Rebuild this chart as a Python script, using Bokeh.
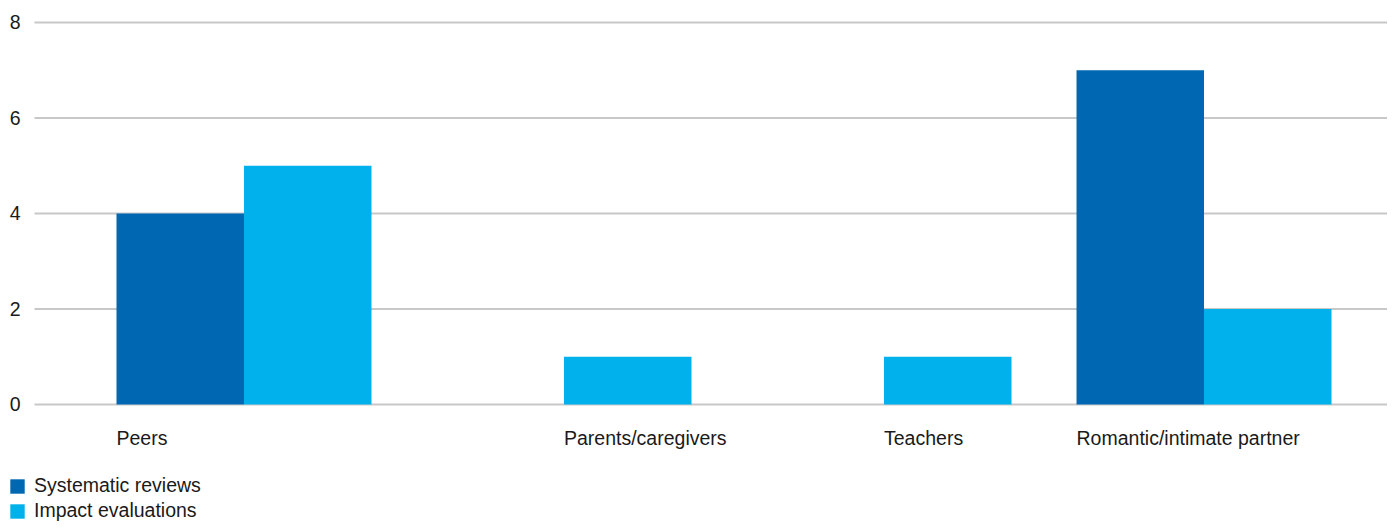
import numpy as np
from bokeh.plotting import figure
from bokeh.models import Range1d, Legend, LegendItem, ColumnDataSource
from bokeh.core.properties import value
from bokeh.embed import file_html
from bokeh.resources import INLINE

categories = ["Peers", "Parents/caregivers", "Teachers", "Romantic/intimate partner"]
systematic_reviews = [4, 0, 0, 7]
impact_evaluations = [5, 1, 1, 2]
series_names = ["Systematic reviews", "Impact evaluations"]
y_ticks = [0, 2, 4, 6, 8]
y_tick_labels = ["0", "2", "4", "6", "8"]

DARK = "#0067B2"
LIGHT = "#00B1EB"
TEXT = "#1a1a1a"
GRID = "#c8c8c8"
FONT = "Liberation Sans"
FS = "19.5px"

W, H = 1387, 522
X_START, X_END = -0.7609, 3.5734       # frame covers the full figure width
Y_START, Y_END = -2.4712, 8.4607
PX_PER_X = W / (X_END - X_START)
GRID_LEFT_PX = 34                       # gridlines start right of tick labels

idx = np.arange(len(categories), dtype=float)
bw = 0.3984
sr = np.array(systematic_reviews)

# category label starts at the left edge of the first drawn bar in its group
x_lab = np.where(sr > 0, idx - bw, idx)

src = ColumnDataSource(dict(
    x_sr=idx - bw / 2,
    x_ie=idx + bw / 2,
    x_lab=x_lab,
    y0=[0] * len(categories),
    cat=categories,
    sr=systematic_reviews,
    ie=impact_evaluations,
))

tick_src = ColumnDataSource(dict(
    y=y_ticks,
    label=y_tick_labels,
    x_lab=[X_START] * len(y_ticks),
    x0=[X_START + GRID_LEFT_PX / PX_PER_X] * len(y_ticks),
    x1=[X_END] * len(y_ticks),
))

p = figure(width=W, height=H, output_backend="svg", toolbar_location=None,
           x_range=Range1d(X_START, X_END), y_range=Range1d(Y_START, Y_END),
           min_border_left=0, min_border_right=0, min_border_top=0,
           min_border_bottom=0)

p.outline_line_color = None
p.axis.visible = False
p.grid.visible = False

# horizontal gridlines and y tick labels
p.segment(x0="x0", x1="x1", y0="y", y1="y", source=tick_src,
          line_color=GRID, line_width=2)
p.text(x="x_lab", y="y", text="label", source=tick_src, x_offset=20,
       text_font=value(FONT), text_font_size=FS, text_color=TEXT,
       text_align="right", text_baseline="middle")

r1 = p.vbar(x="x_sr", top="sr", width=bw, bottom=0, source=src,
            fill_color=DARK, line_color=None)
r2 = p.vbar(x="x_ie", top="ie", width=bw, bottom=0, source=src,
            fill_color=LIGHT, line_color=None)

p.text(x="x_lab", y="y0", text="cat", source=src, y_offset=34,
       text_font=value(FONT), text_font_size=FS, text_color=TEXT,
       text_align="left", text_baseline="middle")

legend = Legend(items=[LegendItem(label=series_names[0], renderers=[r1]),
                       LegendItem(label=series_names[1], renderers=[r2])],
                location=(8, 0), orientation="vertical",
                padding=0, margin=0, spacing=2,
                glyph_width=18, glyph_height=18, label_height=20,
                label_standoff=8, border_line_color=None,
                background_fill_alpha=0,
                label_text_font=FONT, label_text_font_size=FS,
                label_text_color=TEXT)
p.add_layout(legend, "center")

open("out.html", "w").write(file_html(p, INLINE))
